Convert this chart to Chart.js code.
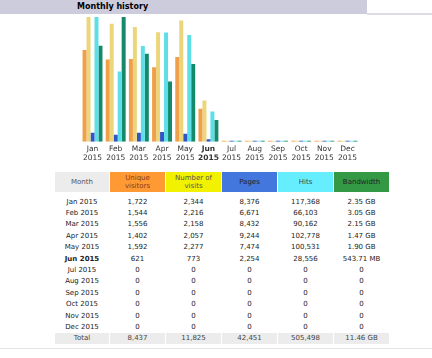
<!DOCTYPE html>
<html>
<head>
<meta charset="utf-8">
<script src="https://cdn.jsdelivr.net/npm/chart.js@4"></script>
<style>
  body { margin: 0; width: 432px; height: 358px; background: #fff; font-family: "DejaVu Sans", Verdana, sans-serif; position: relative; overflow: hidden; }
  #titlebar { position: absolute; left: 0; top: 0; width: 367px; height: 14px; background: #ccccdd; }
  #titlebar span { position: absolute; left: 77px; top: 2px; font-size: 8px; font-weight: bold; color: #000; }
  #titleline { position: absolute; left: 367px; top: 13px; width: 65px; height: 2px; background: #dcdce6; }
  #chartbox { position: absolute; left: 80px; top: 17px; width: 280px; height: 148px; }
  table { position: absolute; left: 54px; top: 172px; border-collapse: separate; border-spacing: 1px 0; font-size: 7px; color: #222; }
  th { font-weight: normal; height: 20px; line-height: 8px; padding: 0; }
  td { height: 11.4px; padding: 0; text-align: center; }
  td.m { width: 54px; }
  td.v { width: 55px; }
  tr.total td { background: #ececec; color: #444; height: 11px; }
  #bottomline { position: absolute; left: 0; top: 348px; width: 432px; height: 1px; background: #e4e4e4; }
</style>
</head>
<body>
<div id="titlebar"><span>Monthly history</span></div>
<div id="titleline"></div>
<div id="chartbox"><canvas id="monthlyChart"></canvas></div>
<table id="tbl"></table>
<div id="bottomline"></div>
<script>
// 월별 데이터 (2015)
const months = ['Jan', 'Feb', 'Mar', 'Apr', 'May', 'Jun', 'Jul', 'Aug', 'Sep', 'Oct', 'Nov', 'Dec'];
const year = '2015';
const visitors = [1722, 1544, 1556, 1402, 1592, 621, 0, 0, 0, 0, 0, 0];
const visits = [2344, 2216, 2158, 2057, 2277, 773, 0, 0, 0, 0, 0, 0];
const pages = [8376, 6671, 8432, 9244, 7474, 2254, 0, 0, 0, 0, 0, 0];
const hits = [117368, 66103, 90162, 102778, 100531, 28556, 0, 0, 0, 0, 0, 0];
const bandwidthGB = [2.35, 3.05, 2.15, 1.47, 1.90, 0.531, 0, 0, 0, 0, 0, 0];
const bandwidthText = ['2.35 GB', '3.05 GB', '2.15 GB', '1.47 GB', '1.90 GB', '543.71 MB', '0', '0', '0', '0', '0', '0'];
const totals = ['8,437', '11,825', '42,451', '505,498', '11.46 GB'];
const currentMonth = 5;

const fmt = n => n.toLocaleString('en-US');

// 표 만들기
function buildTable() {
  const tbl = document.getElementById('tbl');
  let html = '<tr>' +
    '<th style="background:#ececec;color:#555">Month</th>' +
    '<th style="background:#ff9933;color:#8b3a1a">Unique<br>visitors</th>' +
    '<th style="background:#f2f200;color:#555">Number of<br>visits</th>' +
    '<th style="background:#4477dd;color:#222">Pages</th>' +
    '<th style="background:#66eeff;color:#444">Hits</th>' +
    '<th style="background:#339944;color:#222">Bandwidth</th></tr>';
  html += '<tr><td colspan="6" style="height:4px"></td></tr>';
  months.forEach((m, i) => {
    const style = i === currentMonth ? ' style="font-weight:bold"' : '';
    html += '<tr><td class="m"' + style + '>' + m + ' ' + year + '</td>' +
      '<td class="v">' + fmt(visitors[i]) + '</td>' +
      '<td class="v">' + fmt(visits[i]) + '</td>' +
      '<td class="v">' + fmt(pages[i]) + '</td>' +
      '<td class="v">' + fmt(hits[i]) + '</td>' +
      '<td class="v">' + bandwidthText[i] + '</td></tr>';
  });
  html += '<tr class="total"><td>Total</td>' + totals.map(t => '<td>' + t + '</td>').join('') + '</tr>';
  tbl.innerHTML = html;
}
buildTable();

// 막대 그래프
const ctx = document.getElementById('monthlyChart').getContext('2d');
function ds(data, color, axis) {
  return {
    data: data,
    backgroundColor: color,
    yAxisID: axis,
    barPercentage: 1.0,
    categoryPercentage: 0.86,
    minBarLength: 1
  };
}
new Chart(ctx, {
  type: 'bar',
  data: {
    labels: months.map(m => [m, year]),
    datasets: [
      ds(visitors, '#f0a04a', 'yv'),
      ds(visits, '#ecd67c', 'yv'),
      ds(pages, '#2f55c8', 'yp'),
      ds(hits, '#5edfe8', 'yp'),
      ds(bandwidthGB, '#15896c', 'yb')
    ]
  },
  options: {
    responsive: true,
    maintainAspectRatio: false,
    animation: false,
    layout: { padding: 0 },
    plugins: { legend: { display: false }, tooltip: { enabled: false } },
    scales: {
      x: {
        grid: { display: false, drawTicks: false },
        border: { display: false },
        ticks: {
          color: '#333',
          padding: 3,
          maxRotation: 0,
          autoSkip: false,
          font: c => ({ family: 'DejaVu Sans', size: 7.5, lineHeight: 1.15, weight: c.index === currentMonth ? 'bold' : 'normal' })
        }
      },
      yv: { display: false, min: 0, max: Math.max(...visits) },
      yp: { display: false, min: 0, max: Math.max(...hits) },
      yb: { display: false, min: 0, max: Math.max(...bandwidthGB) }
    }
  }
});
</script>
</body>
</html>
